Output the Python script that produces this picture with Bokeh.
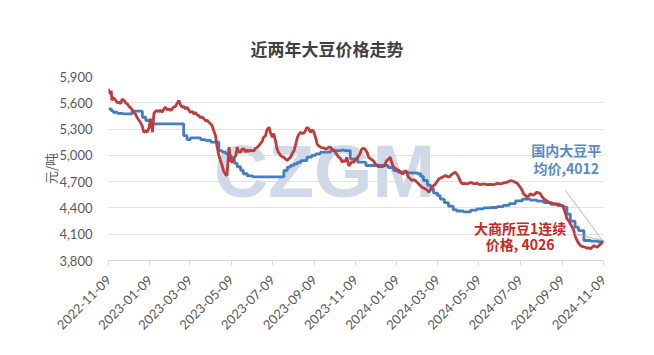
import math
import pandas as pd
from bokeh.plotting import figure
from bokeh.models import (Range1d, FixedTicker, NumeralTickFormatter, Title,
                          DatetimeTickFormatter, Label, Segment, ColumnDataSource)
from bokeh.embed import file_html
from bokeh.resources import INLINE

# ---------------- data ----------------
title_text = "近两年大豆价格走势"
y_axis_label = "元/吨"
start_date = "2022-11-09"
x_tick_labels = ["2022-11-09", "2023-01-09", "2023-03-09", "2023-05-09", "2023-07-09",
                 "2023-09-09", "2023-11-09", "2024-01-09", "2024-03-09", "2024-05-09",
                 "2024-07-09", "2024-09-09", "2024-11-09"]
y_ticks = [3800, 4100, 4400, 4700, 5000, 5300, 5600, 5900]

# 国内大豆平均价 (days after start_date, yuan/ton)
blue_day_offset = [0, 4, 7, 13, 21, 35, 50, 55, 65, 109, 111, 116, 121, 136, 143, 151, 163,
                   168, 173, 177, 182, 186, 190, 195, 199, 205, 213, 257, 259, 264, 269, 274,
                   279, 284, 293, 300, 306, 313, 328, 343, 348, 357, 368, 380, 413, 421, 427,
                   442, 456, 461, 465, 471, 476, 480, 486, 490, 496, 502, 509, 514, 524, 535,
                   544, 554, 564, 574, 583, 592, 601, 611, 623, 633, 643, 653, 663, 672, 677,
                   682, 689, 694, 702, 712, 722, 731]
blue_values = [5531, 5510, 5492, 5480, 5474, 5504, 5435, 5398, 5360, 5360, 5226, 5180, 5200,
               5180, 5170, 5150, 5055, 5036, 5020, 4990, 4950, 4910, 4870, 4830, 4790, 4765,
               4755, 4755, 4827, 4865, 4885, 4903, 4920, 4941, 4979, 5000, 5017, 5036, 5055,
               5060, 5055, 4960, 4922, 4884, 4860, 4827, 4810, 4800, 4790, 4760, 4713, 4660,
               4617, 4570, 4540, 4500, 4460, 4420, 4380, 4365, 4355, 4375, 4390, 4400, 4405,
               4415, 4430, 4450, 4480, 4500, 4490, 4477, 4460, 4440, 4427, 4410, 4330, 4250,
               4180, 4142, 4028, 4020, 4015, 4012]

# 大商所豆1连续价格 (days after start_date, yuan/ton)
red_day_offset = [0, 1, 3, 4, 5, 7, 10, 13, 15, 18, 20, 23, 25, 28, 30, 32, 35, 37, 40, 42,
                  45, 47, 50, 52, 55, 57, 60, 62, 65, 67, 69, 72, 74, 77, 79, 82, 84, 87, 89,
                  92, 94, 96, 99, 101, 104, 106, 109, 111, 114, 116, 119, 121, 124, 126, 128,
                  131, 133, 136, 138, 141, 143, 146, 148, 151, 153, 155, 158, 160, 163, 165,
                  168, 170, 173, 175, 178, 180, 183, 185, 188, 190, 192, 195, 197, 200, 202,
                  205, 207, 210, 212, 215, 217, 220, 222, 224, 227, 229, 232, 234, 237, 239,
                  242, 244, 247, 249, 251, 254, 257, 259, 261, 264, 266, 269, 271, 274, 276,
                  279, 281, 284, 286, 288, 291, 293, 296, 298, 301, 303, 306, 308, 310, 313,
                  315, 318, 320, 323, 325, 328, 330, 333, 335, 338, 340, 343, 345, 347, 350,
                  352, 355, 357, 360, 362, 365, 367, 370, 372, 374, 377, 379, 382, 384, 387,
                  389, 392, 394, 397, 399, 402, 404, 407, 409, 411, 414, 416, 419, 421, 424,
                  426, 429, 431, 434, 436, 439, 441, 443, 446, 448, 451, 453, 456, 458, 461,
                  463, 466, 468, 471, 473, 476, 478, 480, 483, 485, 488, 490, 493, 495, 498,
                  500, 503, 505, 508, 510, 512, 515, 517, 520, 522, 525, 530, 535, 540, 544,
                  549, 554, 559, 564, 569, 574, 579, 584, 589, 594, 599, 604, 608, 611, 613,
                  616, 618, 621, 623, 626, 628, 631, 633, 636, 638, 640, 643, 645, 648, 650,
                  653, 655, 658, 660, 662, 665, 667, 670, 672, 675, 677, 680, 682, 685, 687,
                  689, 692, 694, 697, 699, 702, 704, 707, 709, 712, 714, 717, 719, 722, 724,
                  727, 729, 731]
red_values = [5759, 5720, 5702, 5740, 5626, 5660, 5634, 5600, 5606, 5590, 5640, 5626, 5600,
              5585, 5560, 5549, 5520, 5492, 5470, 5435, 5400, 5378, 5330, 5264, 5280, 5264,
              5321, 5417, 5264, 5474, 5500, 5512, 5500, 5515, 5492, 5530, 5549, 5520, 5530,
              5512, 5530, 5549, 5560, 5590, 5626, 5580, 5549, 5560, 5530, 5549, 5510, 5492,
              5500, 5470, 5492, 5460, 5454, 5430, 5440, 5417, 5395, 5400, 5378, 5360, 5340,
              5290, 5226, 5112, 5000, 4950, 4880, 4820, 4780, 4770, 5093, 4941, 4920, 4960,
              5000, 5093, 5040, 5036, 5070, 5074, 5040, 5060, 5045, 5060, 5050, 5055, 5080,
              5093, 5112, 5131, 5160, 5207, 5226, 5290, 5321, 5264, 5207, 5250, 5150, 5074,
              5036, 5000, 4979, 4979, 4960, 4941, 4960, 4980, 5017, 5055, 5112, 5207, 5240,
              5264, 5250, 5250, 5283, 5321, 5300, 5264, 5290, 5270, 5200, 5131, 5110, 5093,
              5086, 5086, 5074, 5080, 5093, 5093, 5070, 5060, 5036, 5000, 4979, 4960, 4922,
              4940, 4930, 4979, 4880, 4903, 4930, 4920, 4950, 4970, 4998, 5030, 5074, 5080,
              5070, 5030, 4979, 4960, 4950, 4930, 4903, 4890, 4865, 4880, 4870, 4880, 4910,
              4941, 4960, 4979, 4900, 4865, 4850, 4840, 4827, 4810, 4789, 4800, 4827, 4790,
              4751, 4730, 4713, 4720, 4713, 4690, 4675, 4650, 4636, 4625, 4617, 4600, 4579,
              4610, 4636, 4655, 4675, 4700, 4732, 4740, 4751, 4760, 4770, 4760, 4751, 4770,
              4789, 4800, 4808, 4780, 4751, 4700, 4675, 4680, 4675, 4690, 4675, 4680, 4665,
              4675, 4665, 4670, 4665, 4680, 4675, 4685, 4694, 4713, 4700, 4680, 4636, 4600,
              4560, 4540, 4522, 4540, 4560, 4550, 4545, 4570, 4579, 4570, 4560, 4530, 4504,
              4490, 4480, 4465, 4460, 4455, 4447, 4450, 4440, 4447, 4435, 4427, 4400, 4332,
              4275, 4250, 4218, 4180, 4142, 4080, 4028, 4000, 3971, 3960, 3955, 3952, 3940,
              3945, 3933, 3950, 3971, 3960, 3952, 3970, 3990, 4005, 4026]

blue_label_lines = ["国内大豆平", "均价,4012"]
red_label_lines = ["大商所豆1连续", "价格, 4026"]
watermark_text = "CZGM"

# ---------------- build ----------------
t0 = pd.Timestamp(start_date)
blue_dates = [t0 + pd.Timedelta(days=d) for d in blue_day_offset]
red_dates = [t0 + pd.Timedelta(days=d) for d in red_day_offset]
tick_ms = [pd.Timestamp(s).value / 1e6 for s in x_tick_labels]

CJK = "Noto Sans CJK SC"
NUM = "Lato"
BLUE = "#467dbe"
RED = "#be3c3c"

p = figure(width=646, height=347, x_axis_type="datetime",
           x_range=Range1d(pd.Timestamp(x_tick_labels[0]), pd.Timestamp(x_tick_labels[-1])),
           y_range=Range1d(y_ticks[0], y_ticks[-1]),
           output_backend="svg", toolbar_location=None,
           min_border_left=108, min_border_right=43, min_border_top=76, min_border_bottom=87)
p.outline_line_color = None
p.background_fill_color = "white"
p.border_fill_color = "white"

# title
ttl = Title(text=title_text, align="left", offset=142, standoff=32,
            text_font=CJK, text_font_size="17px", text_font_style="bold",
            text_color="#404040")
p.add_layout(ttl, "above")

# watermark under the lines
p.add_layout(Label(x=pd.Timestamp("2023-09-24"), y=4827, text=watermark_text,
                   text_font="Liberation Sans", text_font_size="75px", text_font_style="bold",
                   text_color="#cfd9e7", text_align="center", text_baseline="middle",
                   level="underlay"))

p.step(blue_dates, blue_values, mode="after", line_color=BLUE, line_width=2.8)
p.line(red_dates, red_values, line_color=RED, line_width=2.8)

# leader lines from labels to end points
lead = ColumnDataSource(dict(
    x0=[pd.Timestamp("2024-09-14"), pd.Timestamp("2024-09-26")],
    y0=[4599, 4108],
    x1=[blue_dates[-1], red_dates[-1]],
    y1=[blue_values[-1], red_values[-1]]))
p.add_glyph(lead, Segment(x0="x0", y0="y0", x1="x1", y1="y1",
                          line_color="#a6a6a6", line_width=0.8))

# series labels
for txt, yv in zip(blue_label_lines, [5060, 4855]):
    p.add_layout(Label(x=pd.Timestamp("2024-09-15"), y=yv, text=txt, text_font=CJK,
                       text_font_size="14px", text_font_style="bold", text_color="#5a8ac6",
                       text_align="center", text_baseline="middle"))
for txt, yv in zip(red_label_lines, [4175, 3993]):
    p.add_layout(Label(x=pd.Timestamp("2024-07-09"), y=yv, text=txt, text_font=CJK,
                       text_font_size="14px", text_font_style="bold", text_color="#c62828",
                       text_align="center", text_baseline="middle"))

# axes
xa = p.xaxis[0]
xa.ticker = FixedTicker(ticks=tick_ms)
fmt = "%Y-%m-%d"
xa.formatter = DatetimeTickFormatter(days=fmt, months=fmt, years=fmt, hours=fmt,
                                     hourmin=fmt, minutes=fmt, minsec=fmt, seconds=fmt,
                                     milliseconds=fmt, microseconds=fmt)
xa.major_label_orientation = math.pi / 4
xa.axis_line_color = "#d9d9d9"
xa.major_tick_line_color = "#d9d9d9"
xa.major_tick_out = 5
xa.major_tick_in = 0
xa.minor_tick_line_color = None
xa.major_label_text_font = NUM
xa.major_label_text_font_size = "13px"
xa.major_label_text_color = "#595959"
xa.major_label_standoff = 12

ya = p.yaxis[0]
ya.ticker = FixedTicker(ticks=y_ticks)
ya.formatter = NumeralTickFormatter(format="0,0")
ya.axis_line_color = None
ya.major_tick_line_color = None
ya.minor_tick_line_color = None
ya.major_label_text_font = NUM
ya.major_label_text_font_size = "13px"
ya.major_label_text_color = "#595959"
ya.major_label_standoff = 10
ya.axis_label = y_axis_label
ya.axis_label_text_font = CJK
ya.axis_label_text_font_size = "13px"
ya.axis_label_text_font_style = "normal"
ya.axis_label_text_color = "#595959"
ya.axis_label_standoff = -4

p.xgrid.grid_line_color = None
p.ygrid.grid_line_color = "#e3e3e3"
p.ygrid.grid_line_width = 1

open("out.html", "w").write(file_html(p, INLINE))
